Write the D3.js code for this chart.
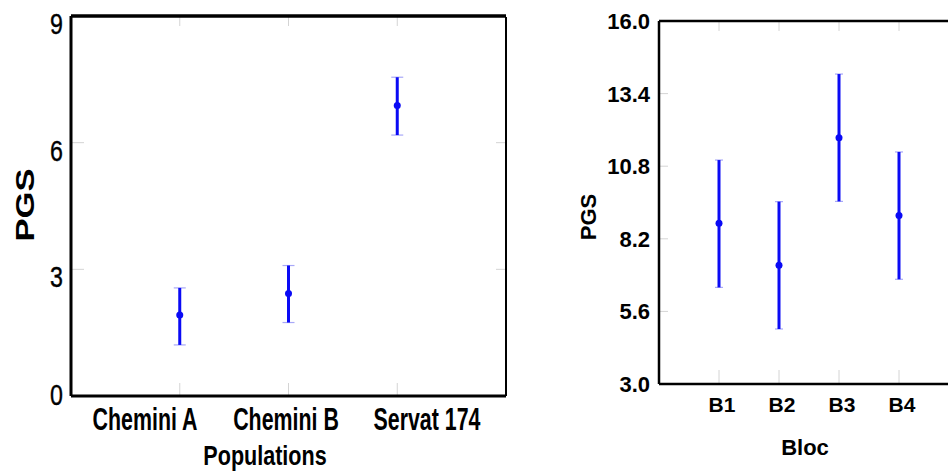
<!DOCTYPE html>
<html><head><meta charset="utf-8">
<script src="https://cdn.jsdelivr.net/npm/d3@7"></script>
<style>body{margin:0;background:#fff}svg{display:block}text{font-family:"Liberation Sans",Arial,sans-serif}</style>
</head><body>
<svg id="c" width="948" height="473"></svg>
<script>
// Left chart data
const popCats = ["Chemini A", "Chemini B", "Servat 174"];
const popMean = [1.92, 2.43, 6.88];
const popLow  = [1.21, 1.74, 6.18];
const popHigh = [2.56, 3.09, 7.55];
const popTicks = [0, 3, 6, 9];
// Right chart data
const blocCats = ["B1", "B2", "B3", "B4"];
const blocMean = [8.76, 7.25, 11.82, 9.03];
const blocLow  = [6.46, 4.97, 9.54, 6.75];
const blocHigh = [11.02, 9.53, 14.10, 11.31];
const blocTicks = [3.0, 5.6, 8.2, 10.8, 13.4, 16.0];

const svg = d3.select("#c");
const BLUE = "#0a0af5", CAP = "#a8a8f8", GRID = "#d4d4d4";

// ---------- Left chart ----------
{
  const L = 71, R = 506, T = 16, B = 396;
  const x = d3.scalePoint().domain(popCats).range([L, R]).padding(1);
  const xl = d3.scalePoint().domain(popCats).range([145, 427]);
  const y = d3.scaleLinear().domain([0, 9]).range([B, T]);
  const g = svg.append("g");
  popTicks.forEach(t => {
    g.append("line").attr("x1", L).attr("x2", L + 13).attr("y1", y(t)).attr("y2", y(t)).attr("stroke", GRID);
    g.append("line").attr("x1", R - 10).attr("x2", R).attr("y1", y(t)).attr("y2", y(t)).attr("stroke", GRID);
  });
  popCats.forEach(c => {
    g.append("line").attr("x1", x(c)).attr("x2", x(c)).attr("y1", T).attr("y2", T + 10).attr("stroke", GRID);
    g.append("line").attr("x1", x(c)).attr("x2", x(c)).attr("y1", B - 13).attr("y2", B).attr("stroke", GRID);
  });
  g.append("line").attr("x1", R).attr("x2", R).attr("y1", T + 1).attr("y2", B).attr("stroke", "#000").attr("stroke-width", 2);
  g.append("line").attr("x1", L).attr("x2", R).attr("y1", T).attr("y2", T).attr("stroke", "#000").attr("stroke-width", 3.5);
  g.append("line").attr("x1", L).attr("x2", L).attr("y1", T).attr("y2", B).attr("stroke", "#000").attr("stroke-width", 3);
  g.append("line").attr("x1", L).attr("x2", R).attr("y1", B).attr("y2", B).attr("stroke", "#000").attr("stroke-width", 3);
  popTicks.forEach(t => {
    g.append("text").attr("transform", `translate(63,${Math.min(y(t) + 18, 405)}) scale(0.8,1)`)
      .attr("text-anchor", "end").attr("font-size", 29).attr("stroke", "#000").attr("stroke-width", 0.4).text(t);
  });
  popCats.forEach(c => {
    g.append("text").attr("transform", `translate(${xl(c)},430) scale(0.69,1)`)
      .attr("text-anchor", "middle").attr("font-size", 31).attr("font-weight", "bold").text(c);
  });
  g.append("text").attr("transform", "translate(265,465) scale(0.77,1)")
    .attr("text-anchor", "middle").attr("font-size", 28).attr("font-weight", "bold").text("Populations");
  g.append("text").attr("transform", "translate(34,205) scale(0.77,1) rotate(-90)")
    .attr("text-anchor", "middle").attr("font-size", 34.6).attr("font-weight", "bold").text("PGS");
  popCats.forEach((c, i) => {
    const cx = x(c);
    g.append("line").attr("x1", cx - 6).attr("x2", cx + 6).attr("y1", y(popHigh[i])).attr("y2", y(popHigh[i])).attr("stroke", CAP).attr("stroke-width", 1.2);
    g.append("line").attr("x1", cx - 6).attr("x2", cx + 6).attr("y1", y(popLow[i])).attr("y2", y(popLow[i])).attr("stroke", CAP).attr("stroke-width", 1.2);
    g.append("line").attr("x1", cx).attr("x2", cx).attr("y1", y(popLow[i])).attr("y2", y(popHigh[i])).attr("stroke", BLUE).attr("stroke-width", 3);
    g.append("circle").attr("cx", cx).attr("cy", y(popMean[i])).attr("r", 3.5).attr("fill", BLUE);
  });
}

// ---------- Right chart ----------
{
  const L = 659, R = 959, T = 21, B = 384;
  const x = d3.scalePoint().domain(blocCats).range([L, R]).padding(1);
  const y = d3.scaleLinear().domain([3, 16]).range([B, T]);
  const g = svg.append("g");
  blocTicks.forEach(t => {
    g.append("line").attr("x1", L).attr("x2", L + 9).attr("y1", y(t)).attr("y2", y(t)).attr("stroke", GRID);
  });
  blocCats.forEach(c => {
    g.append("line").attr("x1", x(c)).attr("x2", x(c)).attr("y1", T).attr("y2", T + 10).attr("stroke", GRID);
    g.append("line").attr("x1", x(c)).attr("x2", x(c)).attr("y1", B - 14).attr("y2", B).attr("stroke", GRID);
  });
  g.append("line").attr("x1", L).attr("x2", 948).attr("y1", T).attr("y2", T).attr("stroke", "#000").attr("stroke-width", 2.5);
  g.append("line").attr("x1", L).attr("x2", L).attr("y1", T).attr("y2", B).attr("stroke", "#000").attr("stroke-width", 2.5);
  g.append("line").attr("x1", L).attr("x2", 948).attr("y1", B).attr("y2", B).attr("stroke", "#000").attr("stroke-width", 2.5);
  blocTicks.forEach(t => {
    g.append("text").attr("x", 650).attr("y", y(t) + 8).attr("text-anchor", "end")
      .attr("font-size", 22).attr("font-weight", "bold").text(d3.format(".1f")(t));
  });
  blocCats.forEach(c => {
    g.append("text").attr("x", x(c) + 3).attr("y", 412).attr("text-anchor", "middle")
      .attr("font-size", 21).attr("font-weight", "bold").text(c);
  });
  g.append("text").attr("x", 805).attr("y", 455).attr("text-anchor", "middle")
    .attr("font-size", 22).attr("font-weight", "bold").text("Bloc");
  g.append("text").attr("transform", "translate(596,217) rotate(-90)").attr("text-anchor", "middle")
    .attr("font-size", 22).attr("font-weight", "bold").text("PGS");
  blocCats.forEach((c, i) => {
    const cx = x(c);
    g.append("line").attr("x1", cx - 4).attr("x2", cx + 4).attr("y1", y(blocHigh[i])).attr("y2", y(blocHigh[i])).attr("stroke", CAP).attr("stroke-width", 1.2);
    g.append("line").attr("x1", cx - 4).attr("x2", cx + 4).attr("y1", y(blocLow[i])).attr("y2", y(blocLow[i])).attr("stroke", CAP).attr("stroke-width", 1.2);
    g.append("line").attr("x1", cx).attr("x2", cx).attr("y1", y(blocLow[i])).attr("y2", y(blocHigh[i])).attr("stroke", BLUE).attr("stroke-width", 3);
    g.append("circle").attr("cx", cx).attr("cy", y(blocMean[i])).attr("r", 3.5).attr("fill", BLUE);
  });
}
</script>
</body></html>
